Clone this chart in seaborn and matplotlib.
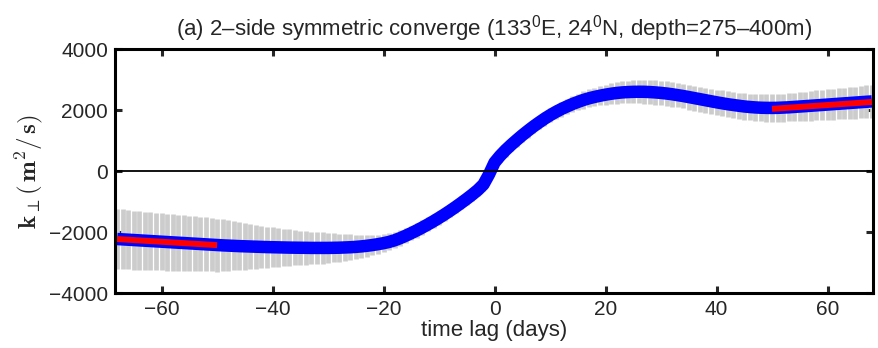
"""
Diffusivity vs. time lag, 2-side symmetric converge case
"""

import matplotlib
matplotlib.use('Agg')
import matplotlib.pyplot as plt
import seaborn as sns
import pandas as pd

# ------------------------------------------------------------
# data
# ------------------------------------------------------------
days = list(range(-68, 69))

k_mean = [
    # -68 .. -50
    -2230, -2241, -2252, -2263, -2274, -2285, -2296, -2307, -2318, -2329,
    -2340, -2351, -2362, -2373, -2384, -2395, -2406, -2417, -2428,
    # -49 .. -21
    -2437, -2446, -2454, -2462, -2469, -2476, -2482, -2488, -2494, -2499,
    -2503, -2507, -2511, -2514, -2517, -2519, -2521, -2522, -2522, -2521,
    -2518, -2514, -2508, -2499, -2487, -2471, -2451, -2427, -2398,
    # -20 .. -1
    -2365, -2325, -2270, -2200, -2120, -2035, -1945, -1850, -1750, -1645,
    -1535, -1420, -1300, -1175, -1045, -910, -770, -620, -440, -110,
    # 0 .. 68
    280, 500, 690, 860, 1020, 1175, 1320, 1460, 1590, 1715,
    1830, 1935, 2030, 2115, 2195, 2265, 2330, 2385, 2430, 2470,
    2505, 2535, 2560, 2578, 2590, 2597, 2600, 2598, 2590, 2578,
    2562, 2542, 2518, 2490, 2460, 2427, 2392, 2357, 2322, 2287,
    2254, 2222, 2192, 2165, 2141, 2118, 2100, 2086, 2076, 2071,
    2070, 2073, 2080, 2090, 2102, 2115, 2128, 2141, 2154, 2167,
    2180, 2193, 2206, 2219, 2232, 2245, 2258, 2271, 2284,
]

k_err = [
    # -68 .. -50
    985, 980, 975, 969, 963, 957, 951, 946, 940, 933,
    926, 919, 912, 905, 898, 891, 884, 877, 870,
    # -49 .. -21
    848, 826, 804, 782, 760, 738, 716, 694, 672, 650,
    632, 614, 596, 578, 560, 548, 536, 524, 512, 500,
    480, 460, 440, 420, 400, 377, 353, 330, 310,
    # -20 .. -1
    290, 280, 270, 260, 250, 240, 236, 232, 228, 224,
    220, 219, 218, 217, 216, 215, 214, 213, 212, 211,
    # 0 .. 68
    210, 212, 214, 216, 218, 220, 222, 224, 226, 228,
    230, 238, 246, 254, 262, 270, 282, 294, 306, 318,
    330, 340, 350, 360, 370, 380, 384, 388, 392, 396,
    400, 402, 404, 406, 408, 410, 412, 414, 416, 418,
    420, 423, 426, 429, 432, 435, 438, 441, 444, 447,
    450, 455, 460, 465, 470, 475, 480, 485, 490, 495,
    500, 505, 510, 515, 520, 525, 530, 535, 540,
]

# linear fits at both ends (red)
fit_left_x = [-68, -50]
fit_left_y = [-2230, -2430]
fit_right_x = [50, 68]
fit_right_y = [2040, 2265]

xticks = [-60, -40, -20, 0, 20, 40, 60]
yticks = [-4000, -2000, 0, 2000, 4000]

df = pd.DataFrame({"lag": days, "k": k_mean, "err": k_err})

# ------------------------------------------------------------
# style
# ------------------------------------------------------------
sns.set_style("ticks")
plt.rcParams['font.family'] = ['Liberation Sans', 'DejaVu Sans']
plt.rcParams['mathtext.fontset'] = 'custom'
plt.rcParams['mathtext.rm'] = 'Liberation Sans'
plt.rcParams['mathtext.it'] = 'Liberation Sans'
plt.rcParams['axes.linewidth'] = 2.2

fig = plt.figure(figsize=(8.79, 3.48), dpi=100)
ax = fig.add_axes([0.1308, 0.158, 0.8624, 0.701])

# grey error bars
ax.errorbar(df["lag"], df["k"], yerr=df["err"], fmt='none',
            ecolor=(0.8, 0.8, 0.8), elinewidth=3.4, capsize=0, zorder=1)

# blue mean curve
sns.lineplot(data=df, x="lag", y="k", color=(0, 0, 1), linewidth=9,
             solid_capstyle='butt', ax=ax, zorder=2)

# red fits
sns.lineplot(x=fit_left_x, y=fit_left_y, color=(1, 0, 0), linewidth=4.3,
             solid_capstyle='butt', ax=ax, zorder=3)
sns.lineplot(x=fit_right_x, y=fit_right_y, color=(1, 0, 0), linewidth=4.3,
             solid_capstyle='butt', ax=ax, zorder=3)

ax.axhline(0, color='black', linewidth=1.3, zorder=4)

ax.set_xlim(-68.4, 68.2)
ax.set_ylim(-4000, 4000)
ax.set_xticks(xticks)
ax.set_yticks(yticks)
ax.tick_params(direction='in', length=5, width=2.2, labelsize=15,
               top=True, right=True, pad=5)
for s in ax.spines.values():
    s.set_color('black')

ax.set_title("(a) 2\u2013side symmetric converge (133$^{0}$E, 24$^{0}$N, "
             "depth=275\u2013400m)", fontsize=16, pad=10)
ax.set_xlabel("time lag (days)", fontsize=16, labelpad=1)
ax.set_ylabel(r"$\mathbf{k}_{\perp}(\,\mathbf{m}^{2}/\,\mathbf{s})$",
              fontsize=18, math_fontfamily='cm', labelpad=3)

fig.savefig("out.png", dpi=100)
plt.close(fig)
